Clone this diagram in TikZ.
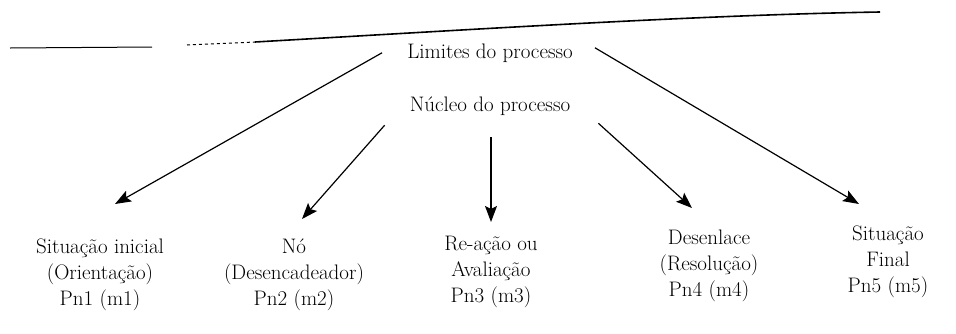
\documentclass[tikz,border=0pt]{standalone}
\usepackage{tikz}
\usetikzlibrary{arrows.meta}

\begin{document}
\begin{tikzpicture}[x=1pt,y=-1pt,
	rotulo/.style={font=\fontsize{21}{26}\selectfont,inner sep=0pt,align=center},
	seta/.style={-{Stealth[length=16pt,width=12pt,inset=3pt]},line width=1.2pt}]
	
		%%Location
		\useasboundingbox (0,0) rectangle (956,333);
		
		%%Borda
		\draw[line width=1pt] (10,48) -- (152,47);
		\draw[line width=1pt,dashed] (187,45) -- (255,42);
		\draw[line width=1.6pt] (255,42) .. controls (480,29) and (700,15) .. (880,12);
		
		%%Label
		\node[rotulo,anchor=base] (limites) at (490,58) {Limites do processo};
		\node[rotulo,anchor=base] (nucleo) at (490,111) {Núcleo do processo};
		
		\node[rotulo,anchor=north] (sitini) at (100,239) {Situação inicial\\(Orientação)\\Pn1 (m1)};
		\node[rotulo,anchor=north] (no) at (294,239) {Nó\\(Desencadeador)\\Pn2 (m2)};
		\node[rotulo,anchor=north] (reacao) at (491,236) {Re-ação ou\\Avaliação\\Pn3 (m3)};
		\node[rotulo,anchor=north] (desenl) at (709,230) {Desenlace\\(Resolução)\\Pn4 (m4)};
		\node[rotulo,anchor=north] (sitfin) at (888,226) {Situação\\Final\\Pn5 (m5)};
		
		%%Arrows
		\draw[seta] ([shift={(-25,0)}]limites.west) -- ([shift={(15,-35)}]sitini.north);
		\draw[seta] ([shift={(-25,10)}]nucleo.south west) -- ([shift={(8,-20)}]no.north);
		\draw[seta] ([shift={(1,22)}]nucleo.south) -- ([shift={(0,-14)}]reacao.north);
		\draw[seta] ([shift={(28,8)}]nucleo.south east) -- ([shift={(-17,-22)}]desenl.north);
		\draw[seta] ([shift={(22,-5)}]limites.east) -- ([shift={(-29,-22)}]sitfin.north);
		
	\end{tikzpicture}
\end{document}
